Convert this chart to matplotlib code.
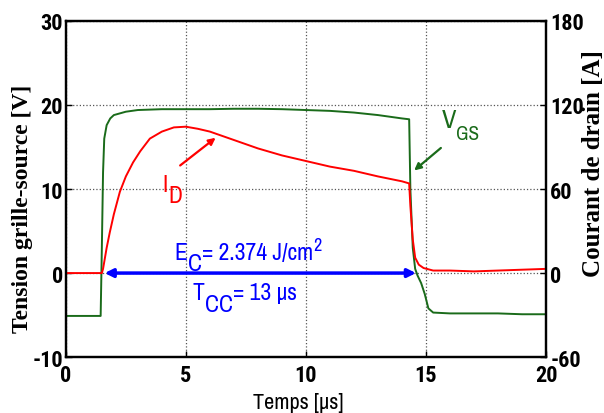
import matplotlib.pyplot as plt
from matplotlib.transforms import offset_copy

# gate voltage V_GS (left axis, V)
t_vgs = [0, 1.45, 1.5, 1.55, 1.6, 1.7, 1.85, 2.0, 2.5, 3, 4, 5, 6, 7, 8, 9, 10, 11, 12, 13,
         13.5, 14.0, 14.3, 14.35, 14.45, 14.55, 14.65, 14.8, 14.95, 15.1, 15.3, 16, 17, 18, 19, 20]
vgs = [-5.1, -5.1, 3, 12, 16, 17.6, 18.4, 18.8, 19.2, 19.4, 19.5, 19.5, 19.5, 19.55, 19.55, 19.5,
       19.4, 19.3, 19.1, 18.8, 18.6, 18.4, 18.3, 10, 3, 0.5, -0.3, -1.2, -2.5, -4.2, -4.7, -4.8,
       -4.8, -4.8, -4.9, -4.9]

# drain current I_D (right axis, A)
t_id = [0, 1.5, 1.55, 1.7, 1.83, 2.0, 2.25, 2.5, 2.8, 3.1, 3.5, 4.0, 4.5, 5.0, 5.5, 6.0, 6.5, 7,
        8, 9, 10, 11, 12, 13, 14, 14.3, 14.35, 14.45, 14.55, 14.7, 14.9, 15.3, 16, 17, 18, 19, 20]
i_d = [0, 0, 3, 18, 29, 42, 58, 69, 79, 87, 96, 101, 104, 104.5, 103, 101, 98, 95, 89, 84, 80,
       76, 73, 69, 65.5, 64, 48, 24, 11, 6, 3.6, 1.8, 1.8, 1.2, 1.8, 2.4, 3]

t_cc = [1.5, 14.7]  # short-circuit duration arrow

NARROW = ['Archivo Narrow', 'Liberation Sans', 'DejaVu Sans']
BOLD_NARROW = ['Roboto Condensed', 'Liberation Sans', 'DejaVu Sans']
plt.rcParams['font.family'] = ['Liberation Sans', 'DejaVu Sans']
plt.rcParams['axes.unicode_minus'] = False

fig = plt.figure(figsize=(6.04, 4.14), dpi=100)
ax = fig.add_axes([0.109, 0.135, 0.795, 0.812])
ax2 = ax.twinx()

green = '#1a6b1a'
ax.plot(t_vgs, vgs, color=green, lw=1.4)
ax2.plot(t_id, i_d, color='red', lw=1.4)

ax.set_xlim(0, 20)
ax.set_ylim(-10, 30)
ax2.set_ylim(-60, 180)
ax.set_xticks([0, 5, 10, 15, 20])
ax.set_yticks([-10, 0, 10, 20, 30])
ax2.set_yticks([-60, 0, 60, 120, 180])
ax.grid(True, color='#555555', ls=':', lw=0.9)

for a in (ax, ax2):
    for s in a.spines.values():
        s.set_linewidth(1.6)
    a.tick_params(direction='in', length=4, width=1, labelsize=16)
    for lab in a.get_xticklabels() + a.get_yticklabels():
        lab.set_fontfamily(BOLD_NARROW)
        lab.set_fontweight('bold')
ax.tick_params(axis='x', pad=5)
ax.tick_params(axis='y', pad=2)
ax2.tick_params(axis='y', pad=3)

ax.set_xlabel('Temps [µs]', fontsize=16, fontfamily=NARROW)
ax.xaxis.set_label_coords(0.485, -0.105)
ax.set_ylabel('Tension grille-source [V]', fontsize=17, fontweight='bold',
              fontfamily='Liberation Serif')
ax.yaxis.set_label_coords(-0.069, 0.445)
ax2.set_ylabel('Courant de drain [A]', fontsize=18, fontweight='bold',
               fontfamily='Liberation Serif')
ax2.yaxis.set_label_coords(1.075, 0.58)

renderer = fig.canvas.get_renderer()


def label(x, y, parts, color):
    """Write text pieces one after another; each piece is (text, size, shift in px)."""
    dx = 0
    for s, size, dy in parts:
        tr = offset_copy(ax.transData, fig=fig, x=dx, y=dy, units='dots')
        t = ax.text(x, y, s, transform=tr, fontsize=size, color=color,
                    ha='left', va='baseline', fontfamily=NARROW)
        dx += t.get_window_extent(renderer).width


# T_cc arrow
ax.annotate('', xy=(t_cc[0], 0), xytext=(t_cc[1], 0),
            arrowprops=dict(arrowstyle='<|-|>', color='blue', lw=2.5, mutation_scale=12))
label(4.54, 1.67, [('E', 17, 0), ('C', 17, -11), ('= 2.374 J/cm', 17, 0), ('2', 13, 9)], 'blue')
label(5.29, -3.1, [('T', 17, 0), ('CC', 17, -12), ('= 13 µs', 17, 0)], 'blue')

# curve labels with arrows
ax.annotate('', xy=(6.33, 16.3), xytext=(4.67, 12.6),
            arrowprops=dict(arrowstyle='-|>', color='red', lw=1.6, mutation_scale=10))
label(4.04, 9.76, [('I', 17, 0), ('D', 17, -11)], 'red')
ax.annotate('', xy=(14.42, 12.0), xytext=(15.71, 15.1),
            arrowprops=dict(arrowstyle='-|>', color=green, lw=1.6, mutation_scale=10))
label(15.67, 17.4, [('V', 19, 0), ('GS', 14, -12)], green)

fig.savefig('out.png', dpi=100)
